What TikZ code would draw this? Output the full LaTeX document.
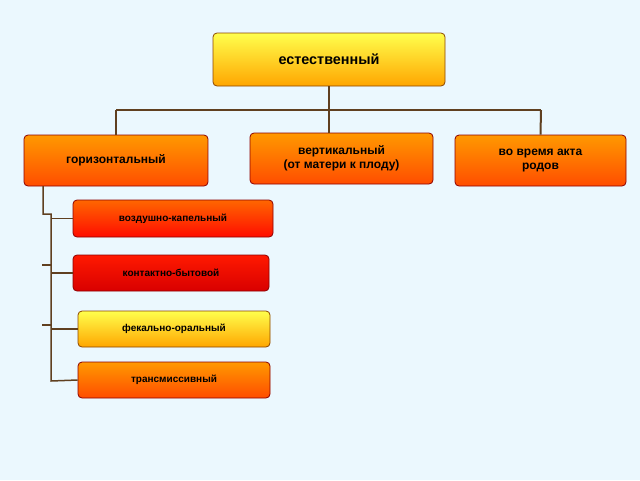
\documentclass[tikz,border=0pt]{standalone}
\usepackage{fontspec}
\setmainfont{Liberation Sans}
\begin{document}
\begin{tikzpicture}[x=1pt,y=-1pt,
 box/.style={draw=#1!55!black,rounded corners=4pt,font=\bfseries,align=center,inner sep=0pt,line width=0.8pt},
 yel/.style={box=orange,top color=yellow!70!white,bottom color=orange!70!yellow},
 ora/.style={box=red,top color=orange!80!yellow,bottom color=orange!60!red},
 redb/.style={box=red,top color=red!80!orange,bottom color=red!85!black},
 conn/.style={draw=brown!50!black,line width=2pt}]
\fill[cyan!8!white] (0,0) rectangle (640,480);
\useasboundingbox (0,0) rectangle (640,480);
\node[yel,minimum width=232pt,minimum height=53pt,font=\bfseries\Large] (top) at (329,59.5) {естественный};
\node[ora,minimum width=184pt,minimum height=51pt,font=\bfseries\large] (hor) at (116,160.5) {горизонтальный};
\node[ora,minimum width=183pt,minimum height=51pt,font=\bfseries\large] (ver) at (341.5,158.5) {вертикальный\\(от матери к плоду)};
\node[ora,minimum width=171pt,minimum height=51pt,font=\bfseries\large] (rod) at (540.5,160.5) {во время акта\\родов};
\node[ora,top color=red!20!orange,bottom color=red!90!orange,minimum width=200pt,minimum height=37pt] (a) at (173,218.5) {воздушно-капельный};
\node[redb,minimum width=196pt,minimum height=36pt] (b) at (171,273) {контактно-бытовой};
\node[yel,minimum width=192pt,minimum height=36pt] (c) at (174,329) {фекально-оральный};
\node[ora,minimum width=192pt,minimum height=36pt] (d) at (174,380) {трансмиссивный};
\coordinate (j) at (329,110);
\draw[conn] (top.south) -- (j);
\draw[conn] (116,110) -- (541,110);
\draw[conn] (116,110) -- (hor.north);
\draw[conn] (329,110) -- (329,133);
\draw[conn] (541,110) -- (rod.north);
\coordinate (s) at (43,186);
\draw[conn,line width=1.5pt] (s) -- (43,214) -- (51,214) -- (51,381) -- (d.west);
\draw[conn,line width=1.5pt] (51,218.5) -- (a.west);
\draw[conn,line width=1.5pt] (51,273) -- (b.west);
\draw[conn,line width=1.5pt] (51,329) -- (c.west);
\draw[conn,line width=1.5pt] (42,265) -- (51,265);
\draw[conn,line width=1.5pt] (42,325) -- (51,325);
\end{tikzpicture}
\end{document}
